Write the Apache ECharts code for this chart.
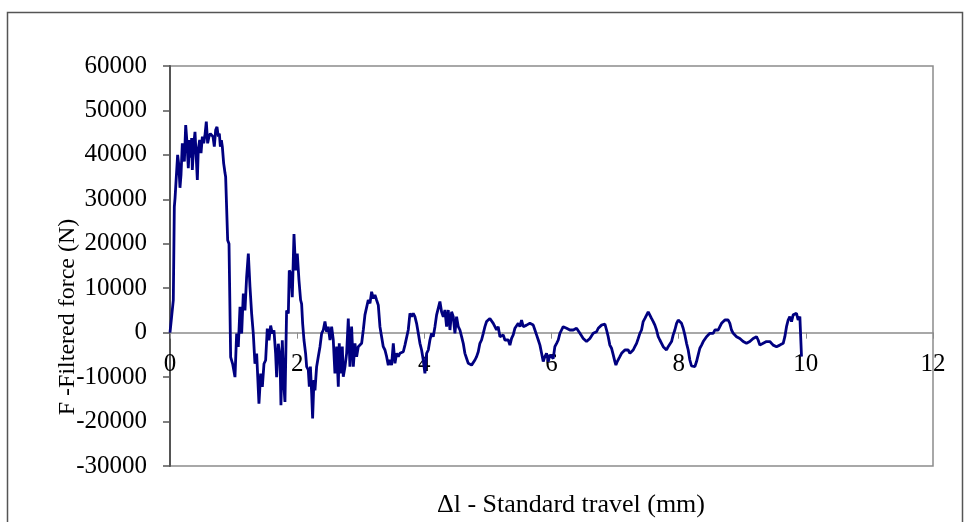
<!DOCTYPE html>
<html>
<head>
<meta charset="utf-8">
<script src="https://cdn.jsdelivr.net/npm/echarts@6/dist/echarts.min.js"></script>
<style>html,body{margin:0;padding:0;background:#fff}#c{width:965px;height:522px}</style>
</head>
<body>
<div id="c"></div>
<script>
// Δl - standard travel (mm)
var travelMm = [
0.000,0.052,0.068,0.079,0.095,0.120,0.138,0.157,0.173,0.194,0.210,0.226,0.247,0.268,0.288,0.309,0.330,0.340,0.351,0.372,
0.393,0.414,0.430,0.445,0.467,0.488,0.509,0.530,0.550,0.571,0.592,0.613,0.634,0.655,0.676,0.697,0.718,0.739,0.760,0.776,
0.792,0.808,0.823,0.844,0.855,0.865,0.875,
0.907,0.928,0.954,0.985,1.022,1.048,
1.074,1.101,1.127,1.153,1.179,1.205,1.232,1.258,1.284,1.310,1.336,1.363,1.399,1.426,1.452,1.478,1.504,1.530,1.557,1.583,
1.609,1.635,1.661,1.677,1.703,1.730,1.745,1.766,1.792,1.808,1.834,1.861,1.876,1.903,1.923,1.950,1.976,2.002,2.028,2.054,
2.070,2.086,2.107,2.133,2.149,2.175,2.191,2.208,2.228,2.243,2.264,2.280,2.306,2.332,2.359,
2.385,2.411,2.437,2.463,2.489,2.516,2.542,2.568,2.594,2.621,2.647,2.662,2.683,2.710,2.725,2.752,2.778,2.804,2.830,2.856,
2.883,2.909,2.935,2.961,2.987,3.014,3.040,3.066,3.092,3.118,3.145,3.171,3.197,3.223,3.249,3.276,3.302,3.328,3.354,3.381,
3.407,3.433,3.459,3.485,3.512,3.538,3.564,3.590,3.616,3.643,3.669,3.695,3.721,3.747,3.774,3.800,3.826,3.852,3.878,3.905,
3.931,3.957,3.983,4.009,4.036,4.062,4.088,4.114,4.140,4.167,4.193,4.219,4.245,4.271,4.298,4.324,4.350,4.376,4.403,4.429,
4.455,4.481,4.507,4.534,4.560,4.586,4.612,4.638,4.665,4.691,4.717,4.743,4.769,4.796,4.822,4.848,4.874,4.900,4.927,4.953,
4.979,5.005,5.031,5.058,5.084,5.110,5.136,5.162,5.189,
5.241,5.267,5.320,5.346,5.372,5.398,5.425,5.451,5.477,5.503,5.529,5.556,5.608,5.660,5.687,5.713,5.739,5.765,5.792,5.818,
5.844,5.870,5.896,5.922,5.949,5.975,6.001,6.027,6.053,6.080,6.106,6.132,6.158,6.184,6.211,6.237,6.263,6.289,6.316,6.342,
6.368,6.394,6.420,6.447,6.473,6.499,6.525,6.551,6.578,6.604,6.630,6.656,6.682,6.709,6.735,6.761,6.787,6.813,6.840,6.866,
6.892,6.918,6.944,6.971,6.997,7.013,7.034,7.075,7.102,7.128,7.154,7.180,7.206,7.233,7.259,7.285,7.311,7.338,7.364,7.390,
7.416,7.442,7.469,7.495,7.521,7.547,7.573,7.600,7.626,7.652,7.678,7.704,7.731,7.757,7.783,7.809,7.835,7.862,7.888,7.914,
7.940,7.967,7.993,
8.019,8.045,8.071,8.097,8.124,8.150,8.176,8.202,8.229,8.255,8.281,8.307,8.333,8.360,8.386,8.412,8.438,8.464,8.491,8.517,
8.543,8.569,8.596,8.622,8.648,8.674,8.700,8.727,8.753,8.779,8.805,8.831,8.858,8.884,8.910,8.936,8.962,8.989,9.015,9.041,
9.067,9.093,9.119,9.146,9.172,9.198,9.224,9.250,9.277,9.303,9.329,9.355,9.381,9.408,9.434,9.460,9.486,9.513,9.539,9.565,
9.591,9.617,9.644,9.670,9.696,9.722,9.748,9.775,9.801,9.827,9.853,9.879,9.906,9.921,9.932
];
// F - filtered force (N)
var forceN = [
0,7300,28300,30200,30000,40000,37800,32600,35500,42600,43000,38500,46700,42600,37000,43350,39400,43800,36600,42000,
45200,39100,34350,41300,43350,40400,44100,42600,44400,47500,42600,44100,44800,45200,44100,41850,45600,46300,44100,44800,
41850,43300,41850,38100,37000,35900,35100,
20800,20000,-5500,-7000,-10000,-200,
-3200,5800,-200,8800,5000,12500,17800,10300,4300,-200,-7000,-4700,-16000,-9200,-12200,-7000,-6200,900,-1700,1600,
-200,500,-4700,-10000,-2500,-5500,-16300,-1700,-12200,-15600,5000,4300,14000,13300,8000,22200,14000,17800,11850,7350,
6500,2100,-1650,-4700,-7650,-8400,-12150,-7650,-13650,-19300,-10650,-13000,-7650,-5400,-3150,
-150,600,2500,200,1350,-1650,1350,-1650,-9150,-3150,-12150,-2400,-9150,-3150,-9900,-7650,-4650,3200,-7650,1350,
-7650,-2400,-5400,-3150,-3150,-2400,600,4000,3600,7350,6600,9200,7700,8500,7350,6200,1350,1700,-3150,-3900,
-5400,-7300,-6150,-7300,-2400,-6900,-4650,-5400,-4650,-5000,-4300,-2800,-3150,600,4350,3600,4350,3600,2100,-150,
-2400,-3900,-6150,-9150,-4650,-3900,-1650,-150,-900,1350,4000,3600,7000,4700,3600,5100,1350,5100,600,4700,
3600,-150,3600,1350,600,-900,-2400,-4650,-5800,-6900,-6500,-7300,-6900,-6150,-5400,-4300,-2400,-1650,-150,1350,
2500,2850,3200,2850,2100,1350,600,1350,-900,
-500,-1650,-1650,-2800,-1300,-500,1000,1350,2100,1350,2850,1350,1700,2100,2250,1700,600,-500,-1650,-2800,
-4650,-6500,-5400,-4650,-6500,-5000,-5000,-5800,-3150,-2400,-1650,-150,600,1350,1700,1000,600,600,1000,600,
600,1000,600,-150,-500,-1300,-1650,-2000,-1650,-1300,-900,-150,-150,200,1000,1350,1700,1950,1950,600,
-900,-2800,-3500,-5000,-6500,-7300,-6500,-5400,-4650,-5000,-3900,-4300,-3900,-4650,-5000,-3900,-3150,-2400,-1300,-150,
600,2500,3200,3600,4700,4350,3200,2500,1700,600,-900,-1650,-2400,-3150,-3500,-3900,-3150,-3150,-2000,-500,
600,2100,2850,
3000,2100,1000,-500,-2400,-3900,-6150,-7500,-7500,-7650,-6500,-5000,-3500,-2800,-2000,-1650,-900,-500,-150,200,
-150,600,200,600,1350,2100,2500,2850,3200,2850,2100,600,-150,-500,-900,-900,-1300,-1650,-2000,-1650,
-2400,-2000,-2000,-1650,-1300,-1650,-900,-1650,-2800,-2400,-2400,-2800,-2000,-2400,-2000,-2000,-2800,-3150,-3150,-2800,
-2800,-2550,-2400,-900,1350,2850,3600,2500,4000,3600,4350,2850,3600,3200,-5400
];
var xTicks = [0, 2, 4, 6, 8, 10, 12];
var yTicks = [-30000, -20000, -10000, 0, 10000, 20000, 30000, 40000, 50000, 60000];
var xTitle = 'Δl - Standard travel (mm)';
var yTitle = 'F -Filtered force (N)';

var points = travelMm.map(function (x, i) { return [x, forceN[i]]; });
var serif = '"Liberation Serif", "Times New Roman", serif';

var gridTop = 66, gridBottom = 56, H = 522;
var plotH = H - gridTop - gridBottom;
var yMin = yTicks[0], yMax = yTicks[yTicks.length - 1];
// shift x axis from grid bottom up to the value 0
var zeroOffset = -plotH * (0 - yMin) / (yMax - yMin);

var chart = echarts.init(document.getElementById('c'), null, { renderer: 'canvas' });
chart.setOption({
  animation: false,
  backgroundColor: '#ffffff',
  grid: {
    left: 170, right: 32, top: gridTop, bottom: gridBottom,
    show: true, borderColor: '#8c8c8c', borderWidth: 1.5,
    containLabel: false, outerBoundsMode: 'none'
  },
  xAxis: {
    type: 'value',
    position: 'bottom',
    offset: zeroOffset,
    min: xTicks[0], max: xTicks[xTicks.length - 1], interval: 2,
    axisLine: { show: true, onZero: false, lineStyle: { color: '#8c8c8c', width: 1.5 } },
    axisTick: { show: true, inside: false, length: 6, lineStyle: { color: '#8c8c8c', width: 1 } },
    splitLine: { show: false },
    axisLabel: { color: '#000', fontFamily: serif, fontSize: 25, margin: 19,
      formatter: function (v) { return String(v); } }
  },
  yAxis: {
    type: 'value',
    min: yMin, max: yMax, interval: 10000,
    axisLine: { show: true, onZero: false, lineStyle: { color: '#555', width: 2 } },
    axisTick: { show: true, inside: false, length: 7, lineStyle: { color: '#555', width: 1.5 } },
    splitLine: { show: false },
    axisLabel: { color: '#000', fontFamily: serif, fontSize: 25, margin: 23,
      formatter: function (v) { return String(v); } }
  },
  series: [{
    type: 'line',
    data: points,
    showSymbol: false,
    symbol: 'none',
    lineStyle: { color: '#000080', width: 2.8 },
    z: 3
  }],
  graphic: [
    { type: 'rect', shape: { x: 7.5, y: 12.5, width: 955, height: 530 },
      style: { fill: 'none', stroke: '#555', lineWidth: 1.5 }, silent: true },
    { type: 'text', x: 571, y: 505,
      style: { text: xTitle, font: '26px ' + serif, fill: '#000', align: 'center', verticalAlign: 'middle' } },
    { type: 'text', x: 68, y: 317, rotation: Math.PI / 2,
      style: { text: yTitle, font: '24px ' + serif, fill: '#000', align: 'center', verticalAlign: 'middle' } }
  ]
});
</script>
</body>
</html>
